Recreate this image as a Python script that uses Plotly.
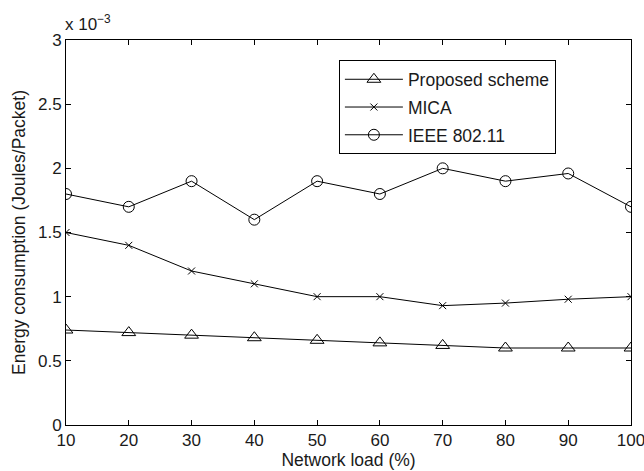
import plotly.graph_objects as go

load = [10, 20, 30, 40, 50, 60, 70, 80, 90, 100]
proposed = [0.74, 0.72, 0.70, 0.68, 0.66, 0.64, 0.62, 0.60, 0.60, 0.60]
mica = [1.50, 1.40, 1.20, 1.10, 1.00, 1.00, 0.93, 0.95, 0.98, 1.00]
ieee = [1.80, 1.70, 1.90, 1.60, 1.90, 1.80, 2.00, 1.90, 1.96, 1.70]
y_ticks = [0, 0.5, 1, 1.5, 2, 2.5, 3]
y_tick_text = ["0", "0.5", "1", "1.5", "2", "2.5", "3"]

font = "Liberation Sans, Arial, sans-serif"
txt = "#1a1a1a"
fig = go.Figure()
fig.add_trace(go.Scatter(x=load, y=proposed, name="Proposed scheme", mode="lines+markers",
                         legendgroup="a",
                         line=dict(color="black", width=1),
                         marker=dict(symbol="triangle-up-open", size=12, color="black", line=dict(width=1))))
fig.add_trace(go.Scatter(x=load, y=mica, name="MICA", mode="lines+markers",
                         legendgroup="b",
                         line=dict(color="black", width=1),
                         marker=dict(symbol="x-thin-open", size=7, color="black", line=dict(width=1))))
fig.add_trace(go.Scatter(x=load, y=ieee, name="IEEE 802.11", mode="lines+markers",
                         legendgroup="c",
                         line=dict(color="black", width=1),
                         marker=dict(symbol="circle-open", size=11, color="black", line=dict(width=1))))

axis_common = dict(showgrid=False, zeroline=False, showline=True, linecolor="black", linewidth=1,
                   mirror="ticks", ticks="inside", ticklen=5, tickcolor="black",
                   automargin=False, ticklabeloverflow="allow",
                   tickfont=dict(family=font, size=17, color=txt))
fig.update_xaxes(range=[10, 100], tickvals=load, title=dict(text="Network load (%)", standoff=2,
                 font=dict(family=font, size=17.5, color=txt)), **axis_common)
fig.update_yaxes(range=[0, 3], tickvals=y_ticks, ticktext=y_tick_text,
                 title=dict(text="Energy consumption (Joules/Packet)", standoff=7,
                            font=dict(family=font, size=17.5, color=txt)), **axis_common)

fig.add_annotation(x=0, y=1, xref="paper", yref="paper", xanchor="left", yanchor="bottom",
                   text="x 10<sup>−3</sup>", showarrow=False, xshift=-3, yshift=4,
                   font=dict(family=font, size=17, color=txt))

fig.update_layout(
    width=644, height=471,
    margin=dict(l=66, r=13, t=40, b=46),
    plot_bgcolor="white", paper_bgcolor="white",
    legend=dict(x=0.483, y=0.947, xanchor="left", yanchor="top", bordercolor="black", borderwidth=1,
                bgcolor="white", font=dict(family=font, size=17.5, color=txt), itemwidth=58,
                entrywidth=226, entrywidthmode="pixels",
                traceorder="grouped", tracegroupgap=2),
    showlegend=True,
)
fig.write_html("out.html")
